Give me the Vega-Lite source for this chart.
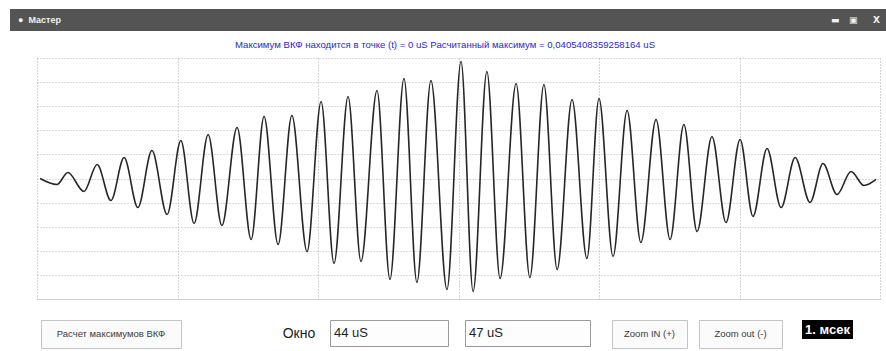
{
  "$schema": "https://vega.github.io/schema/vega-lite/v6.json",
  "background": "white",
  "padding": {"left": 10, "top": 9, "right": 0, "bottom": 5},
  "config": {
    "font": "Liberation Sans",
    "view": {"stroke": null},
    "concat": {"spacing": 0}
  },
  "datasets": {
    "vkf": [
      {"t": -1.489, "v": 0}, {"t": -1.429, "v": -0.05}, {"t": -1.39, "v": 0.05}, {"t": -1.333, "v": -0.108},
      {"t": -1.286, "v": 0.116}, {"t": -1.237, "v": -0.183}, {"t": -1.19, "v": 0.174}, {"t": -1.141, "v": -0.241},
      {"t": -1.091, "v": 0.232}, {"t": -1.037, "v": -0.299}, {"t": -0.988, "v": 0.315}, {"t": -0.941, "v": -0.373},
      {"t": -0.891, "v": 0.365}, {"t": -0.842, "v": -0.39}, {"t": -0.788, "v": 0.423}, {"t": -0.738, "v": -0.506},
      {"t": -0.692, "v": 0.515}, {"t": -0.642, "v": -0.548}, {"t": -0.593, "v": 0.523}, {"t": -0.539, "v": -0.606},
      {"t": -0.489, "v": 0.639}, {"t": -0.443, "v": -0.705}, {"t": -0.393, "v": 0.68}, {"t": -0.347, "v": -0.689},
      {"t": -0.29, "v": 0.73}, {"t": -0.244, "v": -0.838}, {"t": -0.194, "v": 0.83}, {"t": -0.148, "v": -0.863},
      {"t": -0.098, "v": 0.813}, {"t": -0.041, "v": -0.921}, {"t": 0.009, "v": 0.971}, {"t": 0.052, "v": -0.938},
      {"t": 0.101, "v": 0.888}, {"t": 0.148, "v": -0.83}, {"t": 0.205, "v": 0.788}, {"t": 0.254, "v": -0.822},
      {"t": 0.304, "v": 0.78}, {"t": 0.351, "v": -0.755}, {"t": 0.404, "v": 0.656}, {"t": 0.457, "v": -0.664},
      {"t": 0.5, "v": 0.664}, {"t": 0.55, "v": -0.647}, {"t": 0.6, "v": 0.564}, {"t": 0.649, "v": -0.531},
      {"t": 0.703, "v": 0.49}, {"t": 0.753, "v": -0.506}, {"t": 0.802, "v": 0.448}, {"t": 0.849, "v": -0.44},
      {"t": 0.902, "v": 0.349}, {"t": 0.952, "v": -0.365}, {"t": 1.002, "v": 0.324}, {"t": 1.048, "v": -0.315},
      {"t": 1.098, "v": 0.249}, {"t": 1.148, "v": -0.241}, {"t": 1.198, "v": 0.174}, {"t": 1.251, "v": -0.199},
      {"t": 1.297, "v": 0.124}, {"t": 1.347, "v": -0.133}, {"t": 1.397, "v": 0.058}, {"t": 1.443, "v": -0.058},
      {"t": 1.486, "v": -0.008}
    ]
  },
  "spacing": 9,
  "vconcat": [
    {
      "width": 876,
      "height": 22,
      "view": {"fill": "#545454", "stroke": null},
      "data": {"values": [{"label": "●\u00a0\u00a0Мастер"}]},
      "layer": [
        {
          "mark": {"type": "text", "align": "left", "baseline": "middle", "dx": 8, "color": "#f2f2f2", "fontSize": 9, "fontWeight": "bold"},
          "encoding": {
            "x": {"datum": 0, "type": "quantitative", "scale": {"domain": [0, 1]}, "axis": null},
            "text": {"field": "label"}
          }
        },
        {
          "mark": {"type": "text", "align": "right", "baseline": "middle", "dx": -6, "color": "#f2f2f2", "fontSize": 9, "fontWeight": "bold", "font": "DejaVu Sans", "text": "▬\u00a0\u00a0\u00a0▣\u00a0\u00a0\u00a0\u00a0\u00a0X"},
          "encoding": {
            "x": {"datum": 1, "type": "quantitative", "scale": {"domain": [0, 1]}, "axis": null}
          }
        }
      ]
    },
    {
      "width": 870,
      "height": 241,
      "title": {
        "text": "Максимум ВКФ находится в точке (t) = 0 uS Расчитанный максимум = 0,0405408359258164 uS",
        "color": "#2a2ac8",
        "fontSize": 9.6,
        "fontWeight": "normal",
        "anchor": "middle",
        "offset": 8
      },
      "data": {"name": "vkf"},
      "mark": {"type": "line", "color": "#262626", "strokeWidth": 1.6, "interpolate": "monotone"},
      "encoding": {
        "x": {
          "field": "t",
          "type": "quantitative",
          "scale": {"domain": [-1.5, 1.5], "range": [27, 870], "nice": false, "zero": false},
          "axis": {
            "title": null, "labels": false, "ticks": false,
            "domain": true, "domainColor": "#d0d0d0", "domainWidth": 1,
            "values": [-1.5, -1, -0.5, 0, 0.5, 1, 1.5],
            "grid": true, "gridColor": "#a8a8a8", "gridDash": [1, 2], "gridWidth": 1,
            "minExtent": 11
          }
        },
        "y": {
          "field": "v",
          "type": "quantitative",
          "scale": {"domain": [-1, 1], "nice": false},
          "axis": {
            "title": null, "labels": false, "ticks": false, "domain": false,
            "values": [-1, -0.8, -0.6, -0.4, -0.2, 0, 0.2, 0.4, 0.6, 0.8, 1],
            "grid": true, "gridColor": "#b8b8b8", "gridDash": [1, 2], "gridWidth": 1
          }
        }
      }
    },
    {
      "spacing": 0,
      "hconcat": [
        {"width": 30, "height": 28, "data": {"values": []}, "mark": "text", "encoding": {}},
        {
          "width": 140, "height": 28,
          "view": {"stroke": "#c4c4c4", "fill": "#fbfbfb"},
          "data": {"values": [{"label": "Расчет максимумов ВКФ"}]},
          "mark": {"type": "text", "fontSize": 9.5, "color": "#3a3a3a", "baseline": "middle"},
          "encoding": {"text": {"field": "label"}}
        },
        {"width": 92, "height": 28, "data": {"values": []}, "mark": "text", "encoding": {}},
        {
          "width": 50, "height": 28,
          "data": {"values": [{"label": "Окно"}]},
          "mark": {"type": "text", "fontSize": 14, "color": "#1e1e1e", "baseline": "middle"},
          "encoding": {"text": {"field": "label"}}
        },
        {"width": 5, "height": 28, "data": {"values": []}, "mark": "text", "encoding": {}},
        {
          "width": 118, "height": 26,
          "view": {"stroke": "#9a9a9a", "fill": "#fdfdfd"},
          "data": {"values": [{"label": "44 uS"}]},
          "mark": {"type": "text", "fontSize": 13, "color": "#1e1e1e", "align": "left", "baseline": "middle", "dx": 4},
          "encoding": {
            "x": {"datum": 0, "type": "quantitative", "scale": {"domain": [0, 1]}, "axis": null},
            "text": {"field": "label"}
          }
        },
        {"width": 15, "height": 28, "data": {"values": []}, "mark": "text", "encoding": {}},
        {
          "width": 125, "height": 26,
          "view": {"stroke": "#9a9a9a", "fill": "#fdfdfd"},
          "data": {"values": [{"label": "47 uS"}]},
          "mark": {"type": "text", "fontSize": 13, "color": "#1e1e1e", "align": "left", "baseline": "middle", "dx": 4},
          "encoding": {
            "x": {"datum": 0, "type": "quantitative", "scale": {"domain": [0, 1]}, "axis": null},
            "text": {"field": "label"}
          }
        },
        {"width": 20, "height": 28, "data": {"values": []}, "mark": "text", "encoding": {}},
        {
          "width": 75, "height": 28,
          "view": {"stroke": "#c4c4c4", "fill": "#fbfbfb"},
          "data": {"values": [{"label": "Zoom IN (+)"}]},
          "mark": {"type": "text", "fontSize": 9.5, "color": "#3a3a3a", "baseline": "middle"},
          "encoding": {"text": {"field": "label"}}
        },
        {"width": 10, "height": 28, "data": {"values": []}, "mark": "text", "encoding": {}},
        {
          "width": 83, "height": 28,
          "view": {"stroke": "#c4c4c4", "fill": "#fbfbfb"},
          "data": {"values": [{"label": "Zoom out (-)"}]},
          "mark": {"type": "text", "fontSize": 9.5, "color": "#3a3a3a", "baseline": "middle"},
          "encoding": {"text": {"field": "label"}}
        },
        {"width": 19, "height": 28, "data": {"values": []}, "mark": "text", "encoding": {}},
        {
          "width": 51, "height": 19,
          "view": {"stroke": null, "fill": "#000000"},
          "data": {"values": [{"label": "1. мсек"}]},
          "mark": {"type": "text", "fontSize": 13, "fontWeight": "bold", "color": "#ffffff", "baseline": "middle"},
          "encoding": {"text": {"field": "label"}}
        }
      ]
    }
  ]
}
